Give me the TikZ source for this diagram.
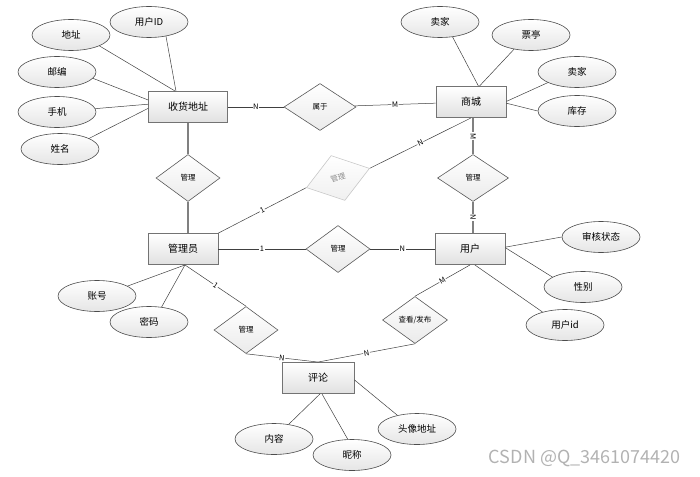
\documentclass[tikz,border=0pt]{standalone}
\usepackage{fontspec}
\setmainfont{Noto Sans CJK SC}
\usepackage{tikz}
\usetikzlibrary{shapes.geometric,calc}

\begin{document}
\begin{tikzpicture}[x=1pt, y=-1pt,
    entity/.style={rectangle, draw=black!55, line width=0.9pt, top color=white, bottom color=black!12, minimum width=70pt, minimum height=31pt, inner sep=0pt, font=\fontsize{10}{12}\selectfont},
    attr/.style={ellipse, draw=black!70, line width=0.6pt, top color=white, bottom color=black!10, minimum width=78pt, minimum height=31pt, inner sep=0pt, font=\fontsize{9.5}{11}\selectfont},
    rel/.style={diamond, draw=black!65, line width=0.6pt, top color=white, bottom color=black!8, minimum width=64pt, minimum height=47pt, inner sep=0pt, font=\fontsize{7.5}{9}\selectfont},
    link/.style={draw=black!75, line width=0.5pt},
    thicklink/.style={draw=black!50, line width=1.1pt},
    card/.style={fill=white, inner sep=0.6pt, sloped, font=\fontsize{7.5}{8}\selectfont}
]
\useasboundingbox (0,0) rectangle (700,476);

\node[entity, minimum width=79pt] (shdz) at (188,107) {收货地址};
\node[entity] (sc) at (471,102) {商城};
\node[entity] (gly) at (183,249) {管理员};
\node[entity] (yh) at (470,249) {用户};
\node[entity, minimum width=72pt] (pl) at (318,378) {评论};

\node[rel, minimum width=72pt] (sy) at (320,107) {属于};
\node[rel] (gl1) at (188,178) {管理};
\node[rel, minimum width=71pt] (gl2) at (473,178) {管理};
\node[rel, rotate=17, minimum width=66pt, draw=black!22, bottom color=black!6, text=black!45] (gl3) at (338,178) {管理};
\node[rel] (gl4) at (338,249) {管理};
\node[rel] (gl5) at (246,330) {管理};
\node[rel, minimum width=65pt] (ck) at (415,320) {查看/发布};

\node[attr] (yhid) at (149,22) {用户ID};
\node[attr] (dz) at (71,35) {地址};
\node[attr] (yb) at (57,72) {邮编};
\node[attr] (sj) at (57,112) {手机};
\node[attr] (xm) at (60,149) {姓名};
\node[attr] (mj1) at (440,22) {卖家};
\node[attr] (pt) at (531,35) {票亭};
\node[attr] (mj2) at (577,72) {卖家};
\node[attr] (kc) at (577,111) {库存};
\node[attr] (shzt) at (601,237) {审核状态};
\node[attr] (xb) at (583,287) {性别};
\node[attr] (yhid2) at (565,325) {用户id};
\node[attr] (zh) at (97,296) {账号};
\node[attr] (mm) at (149,322) {密码};
\node[attr] (nr) at (274,439) {内容};
\node[attr] (nc) at (352,455) {昵称};
\node[attr] (txdz) at (417,429) {头像地址};

\node[text=black!30, anchor=east, font=\fontsize{18}{20}\selectfont] (wm) at (684,458) {CSDN @Q\_3461074420};

\foreach \a/\b/\c in {yhid/-40/127, dz/-21/129, yb/-10/170, sj/5/176, xm/20/182}
    \draw[link] (\a.\b) -- (shdz.\c);
\foreach \a/\b/\c in {mj1/-50/65, pt/-140/62, mj2/200/1, kc/180/-2}
    \draw[link] (\a.\b) -- (sc.\c);
\foreach \a/\b/\c in {shzt/180/3, xb/162/2, yhid2/150/-73}
    \draw[link] (\a.\b) -- (yh.\c);
\foreach \a/\b/\c in {zh/18/-83, mm/50/-83}
    \draw[link] (\a.\b) -- (gly.\c);
\foreach \a/\b/\c in {nr/45/-83, nc/105/-76, txdz/145/-3}
    \draw[link] (\a.\b) -- (pl.\c);

\draw[link] (shdz) -- node[card]{N} (sy);
\draw[link] (sy) -- node[card]{M} (sc);
\draw[thicklink] (shdz.south -| gl1) -- (gl1.north);
\draw[thicklink] (gl1.south) -- (gl1.south |- gly.north);
\draw[thicklink] (gl2.north |- sc.south) -- node[card]{M} (gl2.north);
\draw[thicklink] (gl2.south) -- node[card]{N} (gl2.south |- yh.north);
\draw[link] (gly) -- node[card]{1} (gl4);
\draw[link] (gl4) -- node[card]{N} (yh);
\draw[link] (gly.north east) -- node[card]{1} (gl3.west);
\draw[link] (gl3.east) -- node[card]{N} (sc.south);
\draw[link] (gly.-83) -- node[card]{1} (gl5.north);
\draw[link] (gl5.south) -- node[card]{N} (pl.north);
\draw[link] (yh.south) -- node[card]{M} (ck.north);
\draw[link] (ck.south) -- node[card]{N} (pl.north);
\end{tikzpicture}
\end{document}
